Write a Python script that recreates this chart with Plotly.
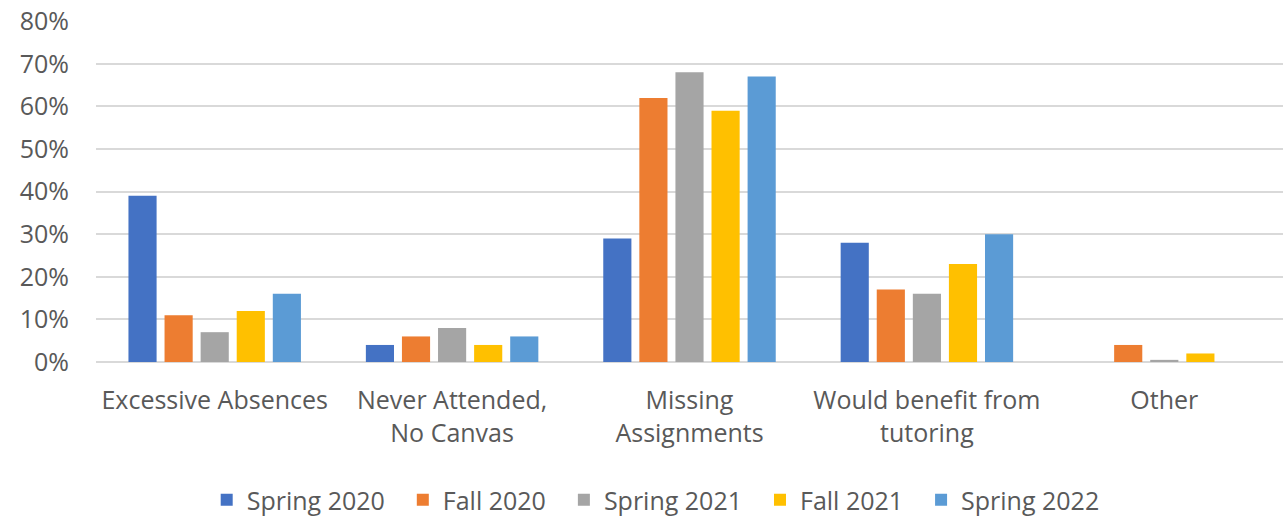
import plotly.graph_objects as go

categories = ["Excessive Absences", "Never Attended,<br>No Canvas", "Missing<br>Assignments",
              "Would benefit from<br>tutoring", "Other"]
series_names = ["Spring 2020", "Fall 2020", "Spring 2021", "Fall 2021", "Spring 2022"]
spring_2020 = [0.39, 0.04, 0.29, 0.28, 0.0]
fall_2020 = [0.11, 0.06, 0.62, 0.17, 0.04]
spring_2021 = [0.07, 0.08, 0.68, 0.16, 0.005]
fall_2021 = [0.12, 0.04, 0.59, 0.23, 0.02]
spring_2022 = [0.16, 0.06, 0.67, 0.30, 0.0]
y_ticks = [0, 0.1, 0.2, 0.3, 0.4, 0.5, 0.6, 0.7, 0.8]
colors = ["#4472C4", "#ED7D31", "#A5A5A5", "#FFC000", "#5B9BD5"]

values = [spring_2020, fall_2020, spring_2021, fall_2021, spring_2022]

fig = go.Figure()
for name, vals, col in zip(series_names, values, colors):
    fig.add_trace(go.Bar(x=categories, y=vals, name=name + "\u00a0\u00a0",
                         marker=dict(color=col, line=dict(width=0))))

font_family = "Open Sans, Liberation Sans, sans-serif"
fig.update_layout(
    barmode="group",
    bargap=0.24,
    bargroupgap=0.22,
    width=1286, height=516,
    margin=dict(l=96, r=3, t=21, b=154, autoexpand=False),
    plot_bgcolor="white", paper_bgcolor="white",
    font=dict(family=font_family, color="#595959", size=25),
    legend=dict(orientation="h", x=0.477, xanchor="center", y=-0.405, yanchor="middle",
                font=dict(size=25, color="#595959"), traceorder="normal"),
    yaxis=dict(range=[0, 0.8005], tickvals=y_ticks,
               tickformat=".0%", showgrid=True, automargin=False, ticklabeloverflow="allow",
               gridcolor="#D9D9D9", gridwidth=2, zeroline=True, zerolinecolor="#D9D9D9",
               zerolinewidth=2, tickfont=dict(size=25, color="#595959"), ticks="",
               ticklabelstandoff=26),
    xaxis=dict(showline=False, tickfont=dict(size=25, color="#595959"), ticks="",
               automargin=False, ticklabeloverflow="allow", ticklabelstandoff=21),
)
fig.write_html("out.html", config={"displayModeBar": False},
               post_script="document.body.style.margin='0';")
